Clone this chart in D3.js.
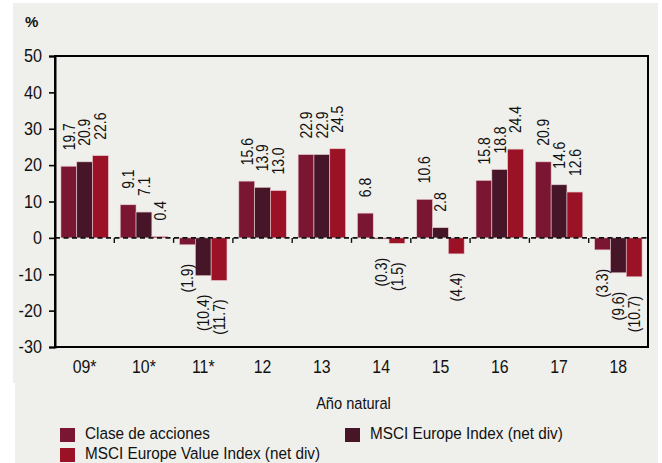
<!DOCTYPE html>
<html>
<head>
<meta charset="utf-8">
<script src="https://cdn.jsdelivr.net/npm/d3@7"></script>
<style>
  body { margin: 0; background: #fff; }
  text { font-family: "Liberation Sans", Arial, sans-serif; fill: #111; }
</style>
</head>
<body>
<svg id="drawing_region"></svg>
<script>
// years (calendar year, * = partial)
const categories = ['09*', '10*', '11*', '12', '13', '14', '15', '16', '17', '18'];
const series_names = ['Clase de acciones', 'MSCI Europe Index (net div)', 'MSCI Europe Value Index (net div)'];
const clase = [19.7, 9.1, -1.9, 15.6, 22.9, 6.8, 10.6, 15.8, 20.9, -3.3];
const msci_europe = [20.9, 7.1, -10.4, 13.9, 22.9, -0.3, 2.8, 18.8, 14.6, -9.6];
const msci_value = [22.6, 0.4, -11.7, 13.0, 24.5, -1.5, -4.4, 24.4, 12.6, -10.7];
const y_ticks = [-30, -20, -10, 0, 10, 20, 30, 40, 50];
const colors = ['#7a1632', '#461628', '#9b1227'];

const FONT = '"Liberation Sans", Arial, sans-serif';
const W = 662, H = 463;
const margin = {top: 56, right: 14, bottom: 116, left: 55};

// the original type is a bit condensed: squeeze text horizontally
function condense(sel, s) {
    sel.each(function() {
        const t = d3.select(this);
        const x = +t.attr('x') || 0;
        t.attr('x', x / s);
        const tr = t.attr('transform') || '';
        t.attr('transform', `${tr} scale(${s},1)`);
    });
}

const svg = d3.select('#drawing_region')
    .attr('width', W)
    .attr('height', H);

// light panel
svg.append('rect').attr('x', 13).attr('y', 3).attr('width', 645).attr('height', 380).attr('fill', '#efefeb');
svg.append('rect').attr('x', 15).attr('y', 382).attr('width', 643).attr('height', 81).attr('fill', '#efefeb');

const inner_w = W - margin.left - margin.right;
const inner_h = H - margin.top - margin.bottom;

const chart = svg.append('g')
    .attr('transform', `translate(${margin.left}, ${margin.top})`);

const xscale = d3.scaleBand()
    .domain(categories)
    .range([0, inner_w])
    .paddingInner(0.2)
    .paddingOuter(0.1);

const xsub = d3.scaleBand()
    .domain(d3.range(series_names.length))
    .range([0, xscale.bandwidth()]);

const yscale = d3.scaleLinear()
    .domain([-30, 50])
    .range([inner_h, 0]);

const table = categories.map((c, i) => ({
    cat: c,
    values: [clase[i], msci_europe[i], msci_value[i]]
}));

// bars
const groups = chart.selectAll('.grp')
    .data(table)
    .join('g')
    .attr('transform', d => `translate(${xscale(d.cat)}, 0)`);

groups.selectAll('rect')
    .data(d => d.values.map((v, k) => ({k, v})))
    .join('rect')
    .attr('x', d => xsub(d.k))
    .attr('width', xsub.bandwidth())
    .attr('y', d => yscale(Math.max(0, d.v)))
    .attr('height', d => Math.abs(yscale(d.v) - yscale(0)))
    .attr('fill', d => colors[d.k])
    .attr('stroke', '#e6c9cf')
    .attr('stroke-width', 0.6);

// value labels, rotated
const labels = groups.selectAll('text')
    .data(d => d.values.map((v, k) => ({k, v})))
    .join('text')
    .attr('transform', d => {
        const x = xsub(d.k) + xsub.bandwidth() / 2;
        const y = d.v >= 0 ? yscale(d.v) - 16 : yscale(d.v) + 19;
        return `translate(${x}, ${y}) rotate(-90)`;
    })
    .attr('dy', '0.36em')
    .attr('text-anchor', d => d.v >= 0 ? 'start' : 'end')
    .style('font-size', '16px')
    .text(d => d.v >= 0 ? d.v.toFixed(1) : `(${Math.abs(d.v).toFixed(1)})`);
condense(labels, 0.87);

// zero line (dashed) with small ticks between years
const step = xscale.step();
chart.append('line')
    .attr('x1', 0).attr('x2', inner_w)
    .attr('y1', yscale(0)).attr('y2', yscale(0))
    .attr('stroke', '#111')
    .attr('stroke-width', 1.6)
    .attr('stroke-dasharray', '5,3.5');
chart.selectAll('.sep')
    .data(categories.slice(1))
    .join('line')
    .attr('x1', d => xscale(d) - step * 0.1)
    .attr('x2', d => xscale(d) - step * 0.1)
    .attr('y1', yscale(0))
    .attr('y2', yscale(0) + 5)
    .attr('stroke', '#111')
    .attr('stroke-width', 1.4);

// frame
chart.append('rect')
    .attr('x', 0).attr('y', 0)
    .attr('width', inner_w).attr('height', inner_h)
    .attr('fill', 'none')
    .attr('stroke', '#000')
    .attr('stroke-width', 2);

// y axis
const yaxis = d3.axisLeft(yscale)
    .tickValues(y_ticks)
    .tickFormat(d => String(d))
    .tickSize(6)
    .tickPadding(7);
const yaxis_group = chart.append('g').call(yaxis);
yaxis_group.select('.domain').attr('stroke-width', 2);
yaxis_group.selectAll('.tick line').attr('stroke-width', 1.6);
yaxis_group.selectAll('.tick text')
    .style('font-size', '18px')
    .style('font-family', FONT)
    .attr('fill', '#111');
condense(yaxis_group.selectAll('.tick text'), 0.9);

// x axis labels
const xaxis = d3.axisBottom(xscale).tickSize(0).tickPadding(13);
const xaxis_group = chart.append('g')
    .attr('transform', `translate(0, ${inner_h})`)
    .call(xaxis);
xaxis_group.select('.domain').remove();
xaxis_group.selectAll('.tick text')
    .style('font-size', '18px')
    .style('font-family', FONT)
    .attr('fill', '#111');
condense(xaxis_group.selectAll('.tick text'), 0.88);

// titles
svg.append('text')
    .attr('x', 25).attr('y', 27)
    .style('font-size', '15px')
    .style('font-weight', 'bold')
    .text('%');

const xtitle = svg.append('text')
    .attr('x', margin.left + inner_w / 2 + 2)
    .attr('y', 409)
    .attr('text-anchor', 'middle')
    .style('font-size', '17px')
    .text('Año natural');
condense(xtitle, 0.86);

// legend
const legend_pos = [
    {x: 60, y: 428},
    {x: 345, y: 428},
    {x: 60, y: 448}
];
const legend = svg.selectAll('.leg')
    .data(series_names)
    .join('g')
    .attr('transform', (d, i) => `translate(${legend_pos[i].x}, ${legend_pos[i].y})`);
legend.append('rect')
    .attr('width', 15).attr('height', 14)
    .attr('fill', (d, i) => colors[i]);
const legend_text = legend.append('text')
    .attr('x', 25).attr('y', 10.5)
    .style('font-size', '17px')
    .text(d => d);
condense(legend_text, 0.9);
</script>
</body>
</html>
